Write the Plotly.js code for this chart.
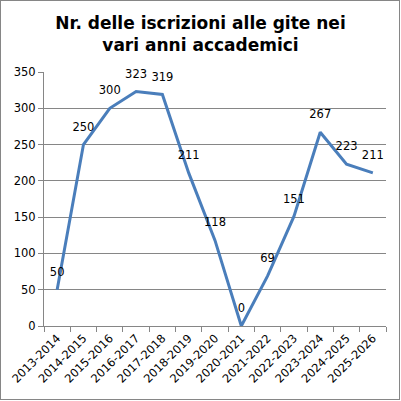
<!DOCTYPE html>
<html>
<head>
<meta charset="utf-8">
<script src="https://cdn.plot.ly/plotly-3.0.1.min.js"></script>
<style>
html,body{margin:0;padding:0;background:#fff;}
#wrap{position:relative;width:401px;height:401px;}
#chart{width:401px;height:401px;}
#frame{position:absolute;left:0;top:0;width:398px;height:398px;border:1px solid #868686;pointer-events:none;}
</style>
</head>
<body>
<div id="wrap"><div id="chart"></div><div id="frame"></div></div>
<script>
const categories = ["2013-2014","2014-2015","2015-2016","2016-2017","2017-2018","2018-2019","2019-2020","2020-2021","2021-2022","2022-2023","2023-2024","2024-2025","2025-2026"];
const iscrizioni = [50, 250, 300, 323, 319, 211, 118, 0, 69, 151, 267, 223, 211];
const yTicks = [0, 50, 100, 150, 200, 250, 300, 350];
const titleText = "Nr. delle iscrizioni alle gite nei<br>vari anni accademici";

const font = "DejaVu Sans, Verdana, sans-serif";
const grey = "#868686";

const trace = {
  x: categories,
  y: iscrizioni,
  type: "scatter",
  mode: "lines+markers+text",
  line: {color: "#4A7EBB", width: 3},
  marker: {size: 16, color: "rgba(0,0,0,0)"},
  text: iscrizioni.map(String),
  textposition: "top center",
  textfont: {family: font, size: 11.5, color: "#000"},
  cliponaxis: false,
  hoverinfo: "none"
};

const layout = {
  width: 401, height: 401,
  margin: {l: 44, r: 15, t: 72, b: 75},
  paper_bgcolor: "#fff", plot_bgcolor: "#fff",
  showlegend: false,
  title: {
    text: titleText,
    x: 0.5, xref: "container",
    y: 1 - 29/401, yref: "container", yanchor: "middle",
    font: {family: font, size: 17, color: "#000", weight: "bold", lineheight: 1.35}
  },
  xaxis: {
    type: "category",
    range: [-0.5, categories.length - 0.5],
    showline: true, linecolor: grey, linewidth: 1,
    showgrid: false, zeroline: false,
    ticks: "outside", tickson: "boundaries", ticklen: 5, tickcolor: grey,
    tickangle: -45,
    tickfont: {family: font, size: 11.5, color: "#000"}
  },
  yaxis: {
    range: [0, 350],
    tickvals: yTicks,
    showline: true, linecolor: grey, linewidth: 1,
    showgrid: true, gridcolor: grey, gridwidth: 1,
    zeroline: false,
    ticks: "outside", ticklen: 5, tickcolor: grey,
    tickfont: {family: font, size: 11.5, color: "#000"}
  }
};

Plotly.newPlot("chart", [trace], layout, {staticPlot: true, displayModeBar: false});
</script>
</body>
</html>
